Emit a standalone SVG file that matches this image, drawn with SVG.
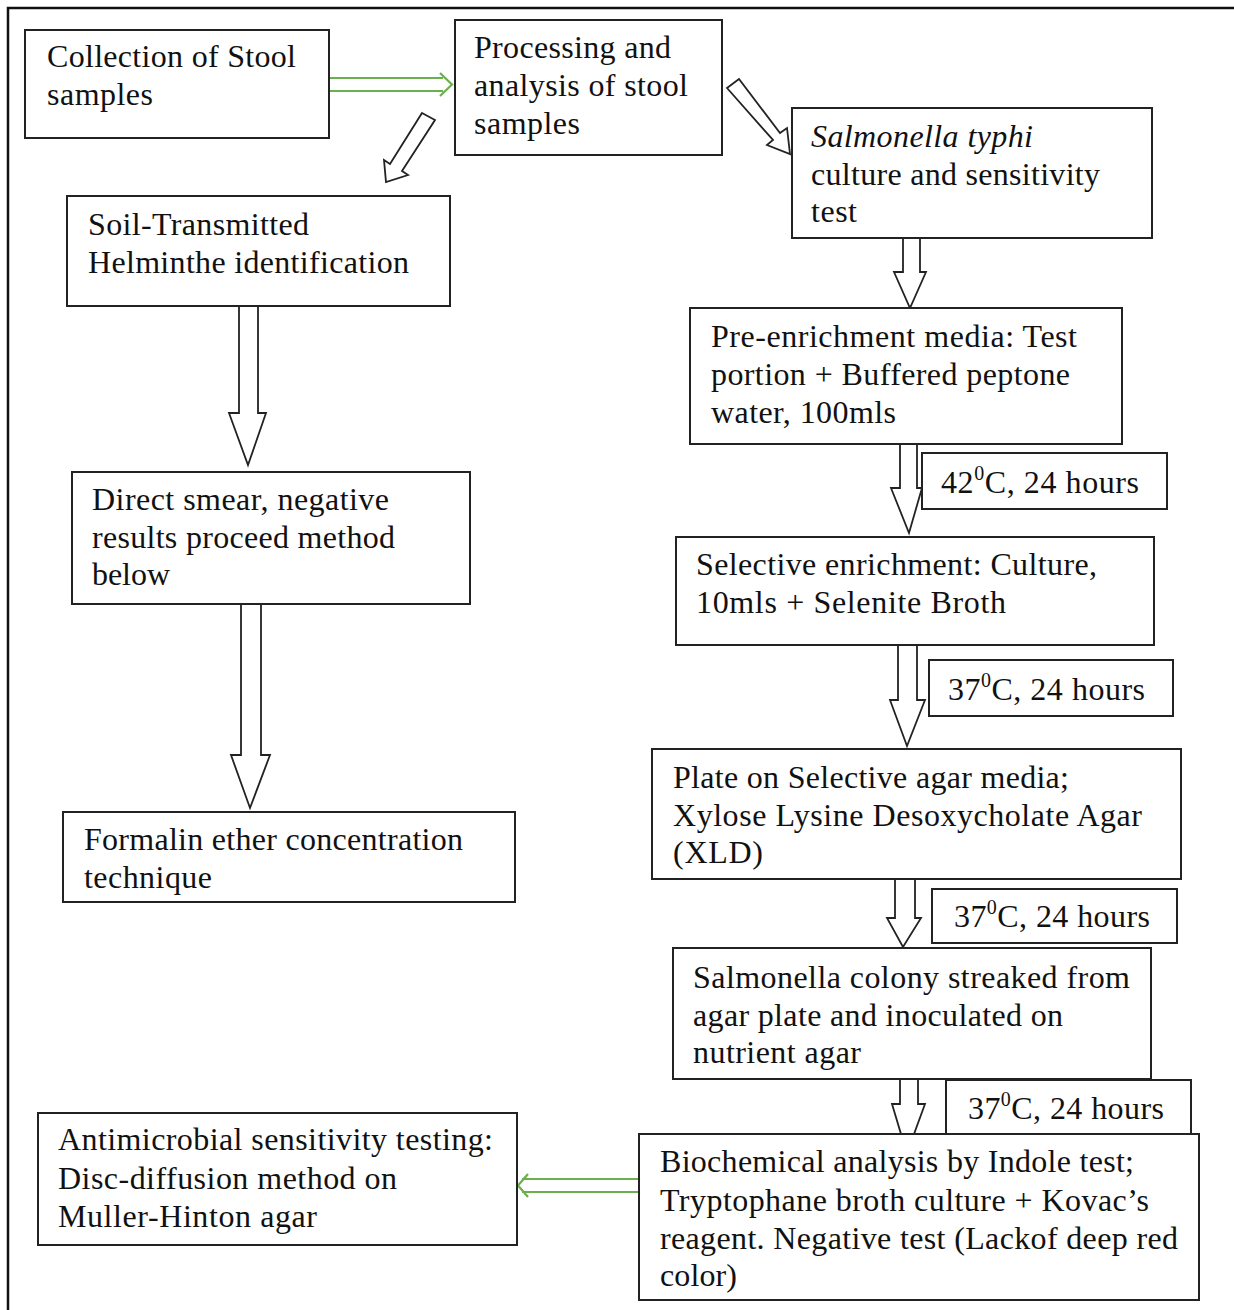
<svg xmlns="http://www.w3.org/2000/svg" width="1234" height="1310" viewBox="0 0 1234 1310">
<style>
.box{fill:#fff;stroke:#222;stroke-width:2}
.t{font-family:"Liberation Serif","Times New Roman",serif;font-size:32px;fill:#111}
.blk{fill:#fff;stroke:#222;stroke-width:1.8;stroke-linejoin:miter}
.grn{fill:none;stroke:#6ab04c;stroke-width:2.2}
</style>
<rect x="0" y="0" width="1234" height="1310" fill="#fff"/>
<path d="M8 1310 V8 H1234" fill="none" stroke="#111" stroke-width="2.5"/>

<g id="connectors">
  <path class="grn" d="M330 78 H443 M330 91 H443 M440 73 L452 84.5 L440 96"/>
  <polygon class="blk" points="422,113 435,120 402,171 408,175 386,182 384,160 390,164"/>
  <polygon class="blk" points="727,88 739,79 780,133 787,128 790,154 767,145 773,140"/>
  <polygon class="blk" points="903,238 920,238 920,272 926,272 910,308 894,272 903,272"/>
  <polygon class="blk" points="239,306 258,306 258,413 266,413 248,465 229,413 239,413"/>
  <polygon class="blk" points="241,604 261,604 261,755 270,755 250,808 231,755 241,755"/>
  <polygon class="blk" points="900,444 917,444 917,488 922,488 909,533 891,488 900,488"/>
  <polygon class="blk" points="898,645 917,645 917,700 925,700 907,746 890,700 898,700"/>
  <polygon class="blk" points="895,879 915,879 915,918 921,918 903,947 887,918 895,918"/>
  <polygon class="blk" points="900,1079 918,1079 918,1104 925,1104 914,1134 901,1134 892,1104 900,1104"/>
  <path class="grn" d="M638 1179 H522 M638 1192 H522 M528 1174 L518 1185.5 L528 1197"/>
</g>

<g id="n1"><rect class="box" x="25" y="30" width="304" height="108"/>
<text class="t" x="47" y="67" textLength="249" lengthAdjust="spacing">Collection of Stool</text>
<text class="t" x="47" y="105" textLength="106" lengthAdjust="spacing">samples</text></g>

<g id="n2"><rect class="box" x="455" y="20" width="267" height="135"/>
<text class="t" x="474" y="58" textLength="197" lengthAdjust="spacing">Processing and</text>
<text class="t" x="474" y="96" textLength="214" lengthAdjust="spacing">analysis of stool</text>
<text class="t" x="474" y="134" textLength="106" lengthAdjust="spacing">samples</text></g>

<g id="n3"><rect class="box" x="792" y="108" width="360" height="130"/>
<text class="t" x="811" y="147" font-style="italic" textLength="222" lengthAdjust="spacing">Salmonella typhi</text>
<text class="t" x="811" y="185" textLength="289" lengthAdjust="spacing">culture and sensitivity</text>
<text class="t" x="811" y="222" textLength="46" lengthAdjust="spacing">test</text></g>

<g id="n4"><rect class="box" x="67" y="196" width="383" height="110"/>
<text class="t" x="88" y="235" textLength="221" lengthAdjust="spacing">Soil-Transmitted</text>
<text class="t" x="88" y="273" textLength="321" lengthAdjust="spacing">Helminthe identification</text></g>

<g id="n5"><rect class="box" x="72" y="472" width="398" height="132"/>
<text class="t" x="92" y="510" textLength="297" lengthAdjust="spacing">Direct smear, negative</text>
<text class="t" x="92" y="548" textLength="303" lengthAdjust="spacing">results proceed method</text>
<text class="t" x="92" y="585" textLength="78" lengthAdjust="spacing">below</text></g>

<g id="n6"><rect class="box" x="63" y="812" width="452" height="90"/>
<text class="t" x="84" y="850" textLength="379" lengthAdjust="spacing">Formalin ether concentration</text>
<text class="t" x="84" y="888" textLength="128" lengthAdjust="spacing">technique</text></g>

<g id="n7"><rect class="box" x="690" y="308" width="432" height="136"/>
<text class="t" x="711" y="347" textLength="366" lengthAdjust="spacing">Pre-enrichment media: Test</text>
<text class="t" x="711" y="385" textLength="359" lengthAdjust="spacing">portion + Buffered peptone</text>
<text class="t" x="711" y="423" textLength="185" lengthAdjust="spacing">water, 100mls</text></g>

<g id="n8"><rect class="box" x="922" y="453" width="245" height="56"/>
<text class="t" x="941" y="493" textLength="198" lengthAdjust="spacing">42<tspan font-size="20" dy="-13">0</tspan><tspan dy="13">C, 24 hours</tspan></text></g>

<g id="n9"><rect class="box" x="676" y="537" width="478" height="108"/>
<text class="t" x="696" y="575" textLength="401" lengthAdjust="spacing">Selective enrichment: Culture,</text>
<text class="t" x="696" y="613" textLength="310" lengthAdjust="spacing">10mls +  Selenite Broth</text></g>

<g id="n10"><rect class="box" x="929" y="660" width="244" height="56"/>
<text class="t" x="948" y="700" textLength="197" lengthAdjust="spacing">37<tspan font-size="20" dy="-13">0</tspan><tspan dy="13">C, 24 hours</tspan></text></g>

<g id="n11"><rect class="box" x="652" y="749" width="529" height="130"/>
<text class="t" x="673" y="788" textLength="396" lengthAdjust="spacing">Plate on Selective agar media;</text>
<text class="t" x="673" y="826" textLength="469" lengthAdjust="spacing">Xylose Lysine Desoxycholate Agar</text>
<text class="t" x="673" y="863" textLength="90" lengthAdjust="spacing">(XLD)</text></g>

<g id="n12"><rect class="box" x="932" y="889" width="245" height="54"/>
<text class="t" x="954" y="927" textLength="196" lengthAdjust="spacing">37<tspan font-size="20" dy="-13">0</tspan><tspan dy="13">C, 24 hours</tspan></text></g>

<g id="n13"><rect class="box" x="673" y="948" width="478" height="131"/>
<text class="t" x="693" y="988" textLength="437" lengthAdjust="spacing">Salmonella colony streaked from</text>
<text class="t" x="693" y="1026" textLength="370" lengthAdjust="spacing">agar plate and inoculated on</text>
<text class="t" x="693" y="1063" textLength="168" lengthAdjust="spacing">nutrient agar</text></g>

<g id="n14"><rect class="box" x="946" y="1080" width="245" height="55"/>
<text class="t" x="968" y="1119" textLength="196" lengthAdjust="spacing">37<tspan font-size="20" dy="-13">0</tspan><tspan dy="13">C, 24 hours</tspan></text></g>

<g id="n15"><rect class="box" x="639" y="1134" width="560" height="166"/>
<text class="t" x="660" y="1172" textLength="474" lengthAdjust="spacing">Biochemical analysis by Indole test;</text>
<text class="t" x="660" y="1211" textLength="489" lengthAdjust="spacing">Tryptophane broth culture + Kovac’s</text>
<text class="t" x="660" y="1249" textLength="518" lengthAdjust="spacing">reagent. Negative test (Lackof deep red</text>
<text class="t" x="660" y="1286" textLength="77" lengthAdjust="spacing">color)</text></g>

<g id="n16"><rect class="box" x="38" y="1113" width="479" height="132"/>
<text class="t" x="58" y="1150" textLength="435" lengthAdjust="spacing">Antimicrobial sensitivity testing:</text>
<text class="t" x="58" y="1189" textLength="339" lengthAdjust="spacing">Disc-diffusion method on</text>
<text class="t" x="58" y="1227" textLength="259" lengthAdjust="spacing">Muller-Hinton agar</text></g>
</svg>
